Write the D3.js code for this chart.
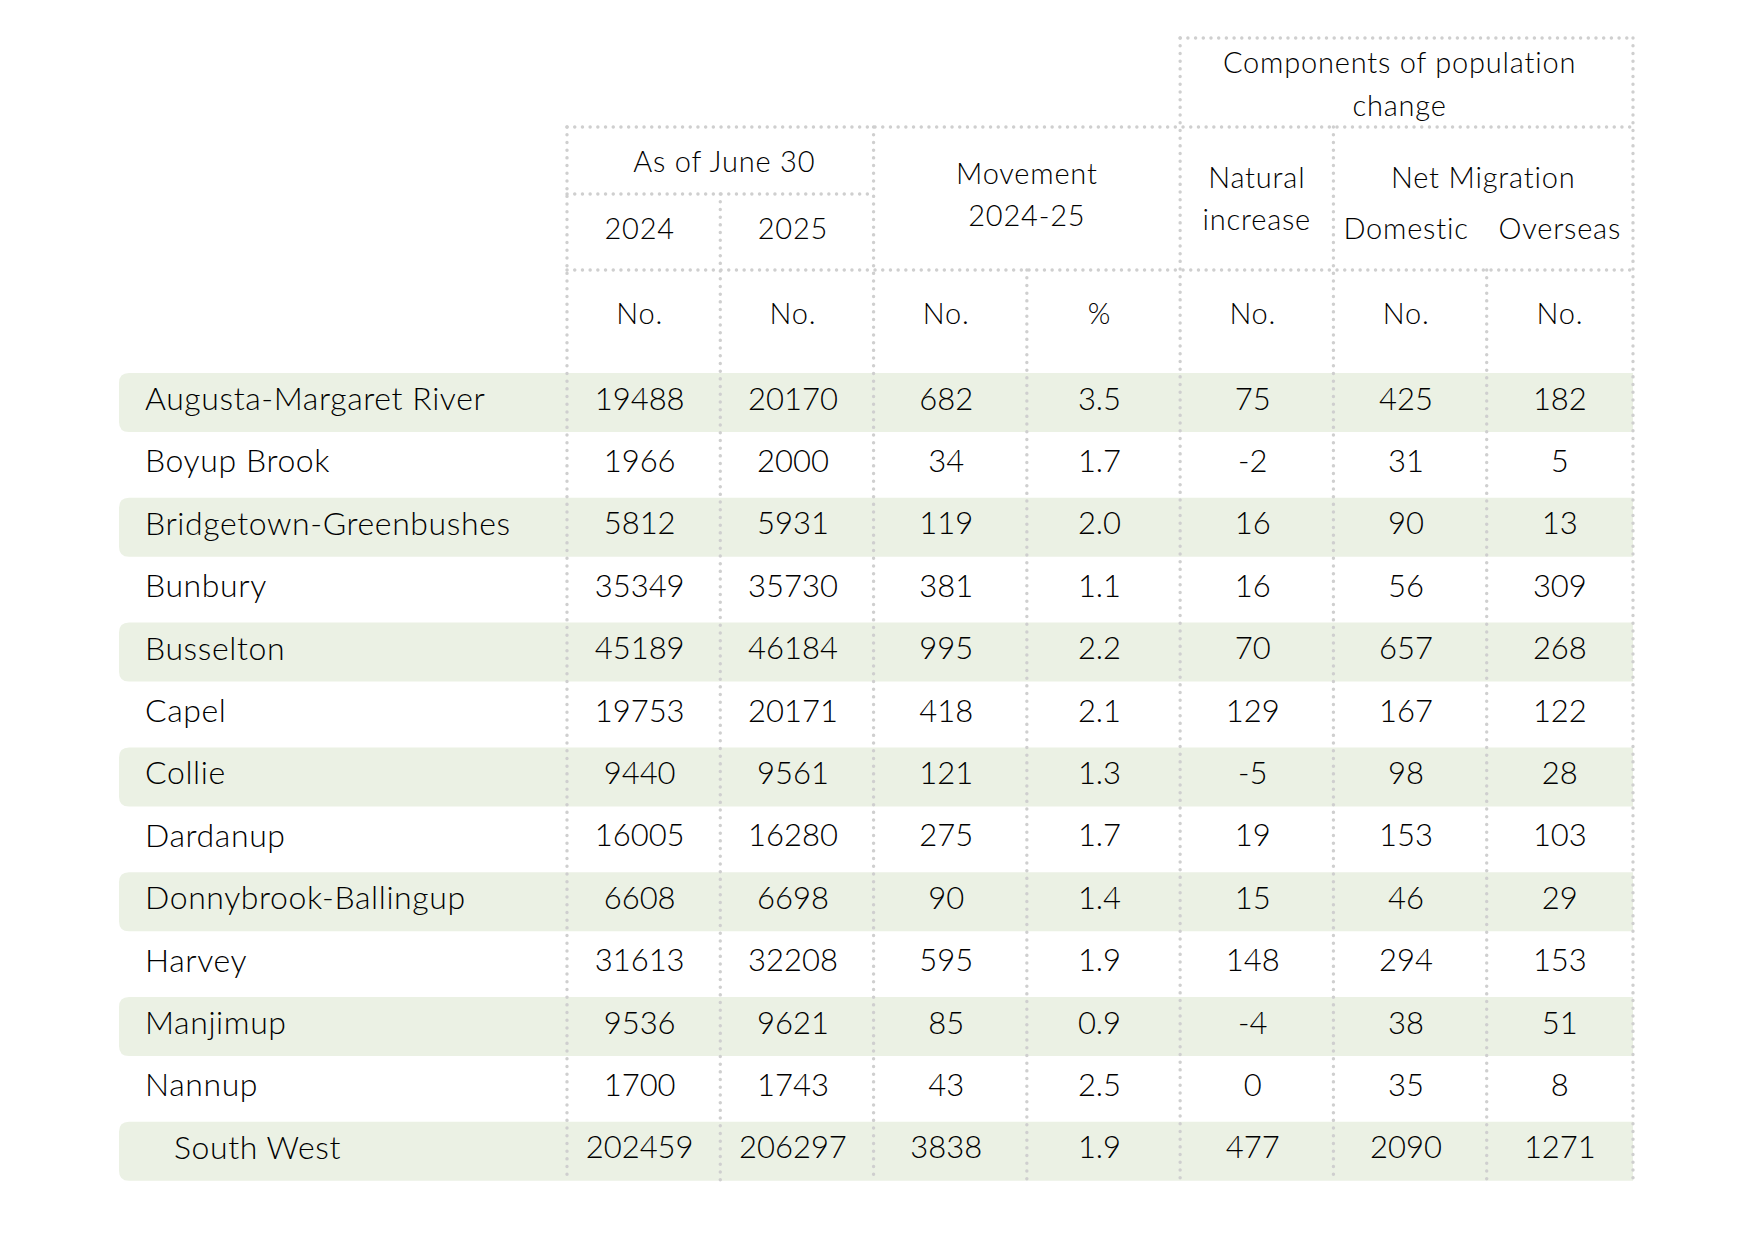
<!DOCTYPE html>
<html>
<head>
<meta charset="utf-8">
<script src="https://cdn.jsdelivr.net/npm/d3@7"></script>
<style>
  html, body { margin: 0; padding: 0; background: #ffffff; }
  svg { display: block; }
</style>
</head>
<body>
<div id="chart"></div>
<script>
// ---------------- DATA ----------------
const regions = ["Augusta-Margaret River", "Boyup Brook", "Bridgetown-Greenbushes", "Bunbury",
  "Busselton", "Capel", "Collie", "Dardanup", "Donnybrook-Ballingup", "Harvey",
  "Manjimup", "Nannup", "South West"];
const pop2024   = [19488, 1966, 5812, 35349, 45189, 19753, 9440, 16005, 6608, 31613, 9536, 1700, 202459];
const pop2025   = [20170, 2000, 5931, 35730, 46184, 20171, 9561, 16280, 6698, 32208, 9621, 1743, 206297];
const moveNo    = [682, 34, 119, 381, 995, 418, 121, 275, 90, 595, 85, 43, 3838];
const movePct   = [3.5, 1.7, 2.0, 1.1, 2.2, 2.1, 1.3, 1.7, 1.4, 1.9, 0.9, 2.5, 1.9];
const natural   = [75, -2, 16, 16, 70, 129, -5, 19, 15, 148, -4, 0, 477];
const domestic  = [425, 31, 90, 56, 657, 167, 98, 153, 46, 294, 38, 35, 2090];
const overseas  = [182, 5, 13, 309, 268, 122, 28, 103, 29, 153, 51, 8, 1271];
const unitLabels = ["No.", "No.", "No.", "%", "No.", "No.", "No."];
const totalRow = "South West";

// ---------------- LAYOUT ----------------
const W = 1750, H = 1250;
const FONT = "Lato, 'Open Sans', sans-serif";
const INK = "#000000";
const DOT = "#cfcfcf";
const GREEN = "#ebf1e4";

const svg = d3.select("#chart").append("svg")
  .attr("width", W).attr("height", H);

const columns = [pop2024, pop2025, moveNo, movePct, natural, domestic, overseas];
const intFmt = d => String(d);               // keep ASCII hyphen for negatives
const pctFmt = d => d.toFixed(1);
const fmt = [intFmt, intFmt, intFmt, pctFmt, intFmt, intFmt, intFmt];

const x = d3.scaleLinear().domain([0, 7]).range([567, 1640]);
const tableRight = 1633;
const tableLeft = 119;
const y = d3.scaleBand().domain(regions).range([373, 373 + 62.4 * regions.length]).padding(0);
const rowH = 59;
const bodyBottom = y(totalRow) + rowH;
const colCenter = i => (i === 6 ? (x(6) + tableRight) / 2 : x(i + 0.5) - 4);

// header line levels
const yTop = 38, yL1 = 127, yL2 = 194, yL3 = 270;

// ---------------- ROW BACKGROUNDS ----------------
const r = 10;
function leftRoundedRect(x0, y0, w, h, rad) {
  return `M${x0 + rad},${y0} H${x0 + w} V${y0 + h} H${x0 + rad} ` +
    `Q${x0},${y0 + h} ${x0},${y0 + h - rad} V${y0 + rad} Q${x0},${y0} ${x0 + rad},${y0} Z`;
}
svg.append("g").selectAll("path")
  .data(regions.filter((d, i) => i % 2 === 0))
  .join("path")
  .attr("d", d => leftRoundedRect(tableLeft, y(d), tableRight - tableLeft, rowH, r))
  .attr("fill", GREEN);

// ---------------- DOTTED GRID ----------------
const lines = [
  [x(4), yTop, tableRight, yTop],
  [x(0), yL1, tableRight, yL1],
  [x(0), yL2, x(2), yL2],
  [x(0), yL3, tableRight, yL3],
  [x(0), yL1, x(0), bodyBottom],
  [x(1), yL2, x(1), bodyBottom],
  [x(2), yL1, x(2), bodyBottom],
  [x(3), yL3, x(3), bodyBottom],
  [x(4), yTop, x(4), bodyBottom],
  [x(5), yL1, x(5), bodyBottom],
  [x(6), yL3, x(6), bodyBottom],
  [tableRight, yTop, tableRight, bodyBottom]
];
svg.append("g").selectAll("line")
  .data(lines)
  .join("line")
  .attr("x1", d => d[0]).attr("y1", d => d[1])
  .attr("x2", d => d[2]).attr("y2", d => d[3])
  .attr("stroke", DOT)
  .attr("stroke-width", 3.4)
  .attr("stroke-linecap", "round")
  .attr("stroke-dasharray", "0.1 7.6");

// ---------------- HEADER TEXT ----------------
const hdr = svg.append("g")
  .attr("font-family", FONT)
  .attr("font-weight", 300)
  .attr("font-size", 29)
  .attr("letter-spacing", 0.8)
  .attr("fill", INK)
  .attr("text-anchor", "middle")
  .attr("dominant-baseline", "central");

const headerTexts = [
  ["Components of population", (x(4) + tableRight) / 2 - 7, 61],
  ["change", (x(4) + tableRight) / 2 - 7, 104],
  ["As of June 30", x(1) + 4, 160],
  ["Movement", x(3), 172],
  ["2024-25", x(3), 214],
  ["Natural", x(4.5), 176],
  ["increase", x(4.5), 218],
  ["Net Migration", (x(5) + tableRight) / 2, 176],
  ["Domestic", colCenter(5), 227],
  ["Overseas", colCenter(6), 227],
  ["2024", colCenter(0), 227],
  ["2025", colCenter(1), 227]
];
hdr.selectAll("text.h")
  .data(headerTexts)
  .join("text")
  .attr("class", "h")
  .attr("x", d => d[1]).attr("y", d => d[2])
  .text(d => d[0]);

hdr.selectAll("text.u")
  .data(unitLabels)
  .join("text")
  .attr("class", "u")
  .attr("x", (d, i) => colCenter(i))
  .attr("y", 312)
  .text(d => d);

// ---------------- BODY TEXT ----------------
const body = svg.append("g")
  .attr("font-family", FONT)
  .attr("font-weight", 300)
  .attr("font-size", 31)
  .attr("fill", INK)
  .attr("dominant-baseline", "central");

body.selectAll("text.name")
  .data(regions)
  .join("text")
  .attr("class", "name")
  .attr("x", d => d === totalRow ? 174 : 145)
  .attr("y", d => y(d) + rowH / 2 - 5)
  .attr("font-size", 32)
  .attr("letter-spacing", 0.6)
  .text(d => d);

columns.forEach((col, ci) => {
  body.append("g")
    .attr("text-anchor", "middle")
    .selectAll("text")
    .data(col)
    .join("text")
    .attr("x", colCenter(ci))
    .attr("y", (d, i) => y(regions[i]) + rowH / 2 - 5)
    .text(d => fmt[ci](d));
});
</script>
</body>
</html>
